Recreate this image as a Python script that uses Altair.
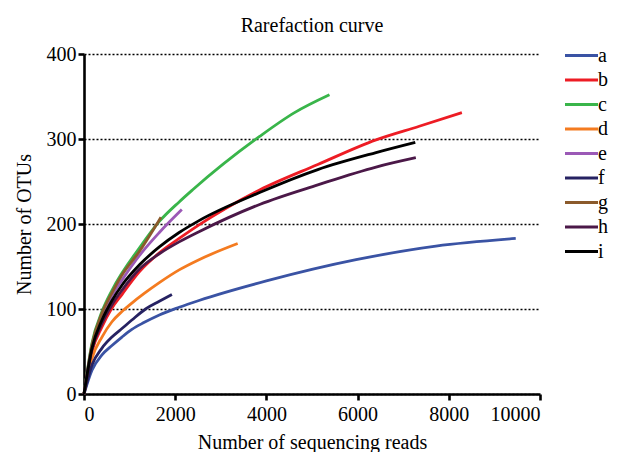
import altair as alt
import pandas as pd

FONT = "Liberation Serif, Times New Roman, Times, serif"

series = ["a", "b", "c", "d", "e", "f", "g", "h", "i"]
colors = ["#3a53a4", "#ed1c24", "#39b54a", "#f47b20", "#9b59b6", "#262262", "#8b5a2b", "#4b1848", "#000000"]

a_x = [0, 175, 394, 613, 832, 1050, 1313, 1652, 2087, 2522, 4000, 5967, 7717, 9468]
a_y = [0, 28, 46, 57, 67, 76, 84, 93, 102, 110, 133, 158, 174, 183]

b_x = [0, 175, 394, 600, 832, 1217, 1652, 2087, 2522, 3851, 5127, 6404, 7352, 8287]
b_y = [0, 50, 79, 100, 117, 144, 166, 183, 199, 240, 270, 299, 315, 331]

c_x = [0, 175, 394, 613, 1217, 1652, 2087, 2377, 3851, 4617, 5383]
c_y = [0, 60, 97, 122, 172, 203, 226, 240, 303, 331, 352]

d_x = [0, 175, 394, 613, 832, 1050, 1313, 1652, 2087, 2522, 3370]
d_y = [0, 42, 67, 85, 97, 107, 118, 131, 146, 158, 177]

e_x = [0, 175, 394, 613, 832, 1217, 1652, 2145]
e_y = [0, 56, 93, 116, 134, 163, 190, 217]

f_x = [0, 175, 394, 613, 832, 1050, 1350, 1652, 1928]
f_y = [0, 34, 54, 67, 77, 87, 100, 109, 117]

g_x = [0, 175, 394, 613, 832, 1217, 1688]
g_y = [0, 58, 95, 119, 140, 168, 208]

h_x = [0, 175, 394, 613, 832, 1217, 1652, 2087, 2522, 3851, 5127, 6404, 7277]
h_y = [0, 52, 83, 105, 122, 147, 165, 179, 191, 223, 246, 267, 278]

i_x = [0, 175, 394, 613, 832, 1217, 1652, 2087, 2522, 3851, 5127, 6404, 7265]
i_y = [0, 54, 87, 110, 128, 152, 173, 190, 204, 237, 264, 284, 296]

x_ticks = [0, 2000, 4000, 6000, 8000, 10000]
y_ticks = [0, 100, 200, 300, 400]

all_x = [a_x, b_x, c_x, d_x, e_x, f_x, g_x, h_x, i_x]
all_y = [a_y, b_y, c_y, d_y, e_y, f_y, g_y, h_y, i_y]

rows = []
for name, xs, ys in zip(series, all_x, all_y):
    for k, (xv, yv) in enumerate(zip(xs, ys)):
        rows.append({"sample": name, "reads": xv, "otus": yv, "order": k})
df = pd.DataFrame(rows)

chart = alt.Chart(df).mark_line(strokeWidth=2.8, interpolate="monotone").encode(
    x=alt.X("reads:Q",
            scale=alt.Scale(domain=[0, 10000], nice=False),
            axis=alt.Axis(values=x_ticks, format="d", grid=False,
                          title="Number of sequencing reads",
                          labelPadding=4, titlePadding=8)),
    y=alt.Y("otus:Q",
            scale=alt.Scale(domain=[0, 400], nice=False),
            axis=alt.Axis(values=y_ticks, format="d", grid=True,
                          gridDash=[2, 2], gridColor="#000000", gridWidth=1.3,
                          title="Number of OTUs",
                          labelPadding=2, titlePadding=12)),
    color=alt.Color("sample:N",
                    scale=alt.Scale(domain=series, range=colors),
                    legend=alt.Legend(orient="none", legendX=486, legendY=-10,
                                      title=None, padding=0,
                                      symbolType="M-1.65,0H1.65", symbolSize=400,
                                      symbolStrokeWidth=3,
                                      labelFont=FONT, labelFontSize=20,
                                      labelColor="#000000",
                                      labelOffset=5, rowPadding=2.5)),
    order="order:Q",
).properties(
    width=456,
    height=340,
    title=alt.Title("Rarefaction curve", font=FONT, fontSize=20,
                    fontWeight="normal", color="#000000", anchor="middle", offset=8),
    padding={"left": 76, "top": 46, "right": 69, "bottom": 58},
    autosize=alt.AutoSizeParams(type="none"),
).configure_view(
    stroke=None
).configure_axis(
    labelFont=FONT, labelFontSize=20, labelColor="#000000",
    titleFont=FONT, titleFontSize=20, titleFontWeight="normal", titleColor="#000000",
    domainColor="#000000", domainWidth=2.6,
    tickColor="#000000", tickWidth=2.6, tickSize=6,
)

chart.save("out.html", embed_options={"renderer": "svg", "actions": False})
